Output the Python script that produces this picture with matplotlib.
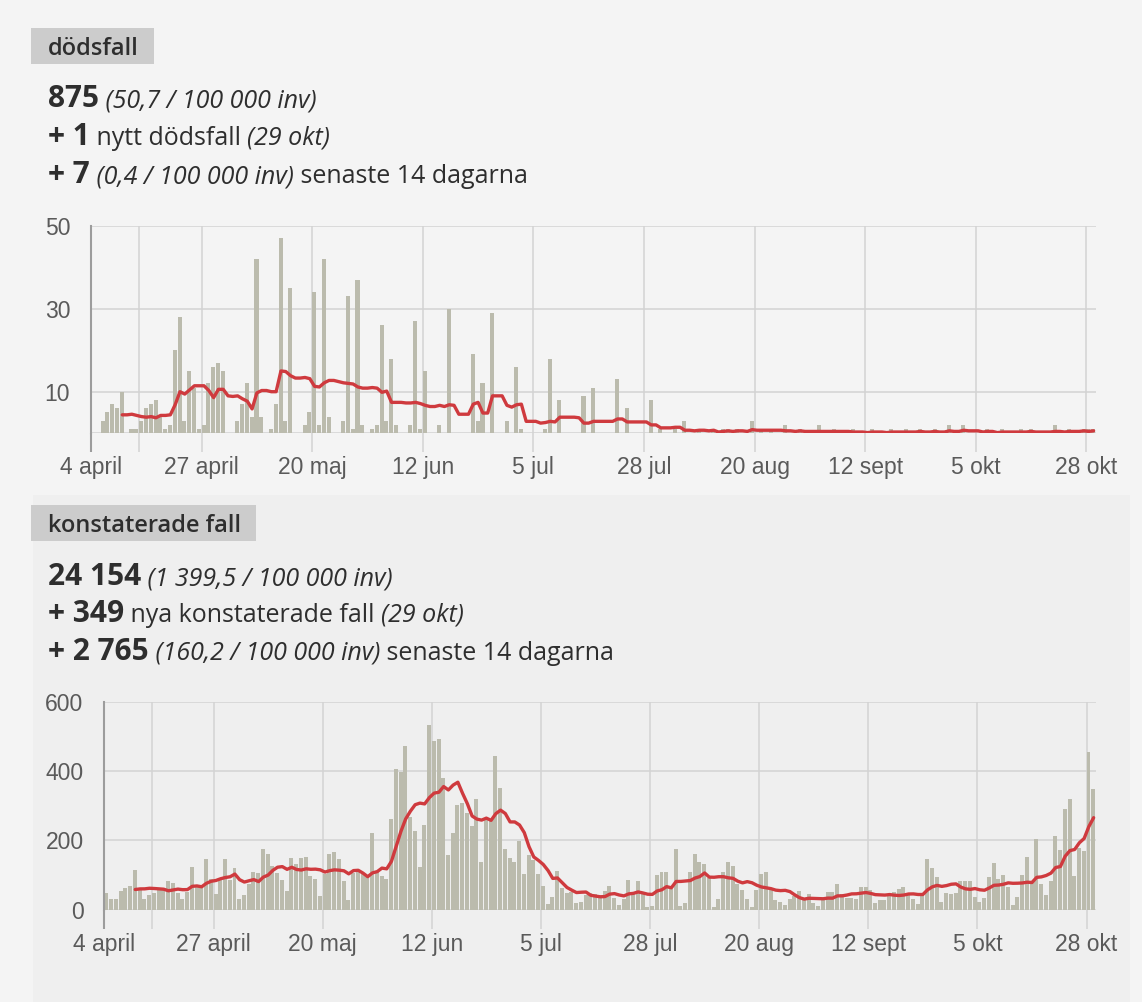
import matplotlib
matplotlib.use('Agg')
import matplotlib.pyplot as plt
import numpy as np
import pandas as pd
from matplotlib.patches import Rectangle

W, H = 1142, 1002
start = pd.Timestamp('2020-04-04')

deaths = [0, 0, 3, 5, 7, 6, 10, 0, 1, 1,
          3, 6, 7, 8, 4, 1, 2, 20, 28, 3,
          15, 11, 1, 2, 12, 16, 17, 15, 0, 0,
          3, 7, 12, 4, 42, 4, 0, 1, 7, 47,
          3, 35, 0, 0, 2, 5, 34, 2, 42, 4,
          0, 0, 3, 33, 1, 37, 2, 0, 1, 2,
          26, 3, 18, 2, 0, 0, 2, 27, 1, 15,
          0, 0, 2, 0, 30, 0, 0, 0, 0, 19,
          3, 12, 0, 29, 0, 0, 3, 0, 16, 1,
          0, 0, 0, 0, 1, 18, 0, 8, 0, 0,
          0, 0, 9, 0, 11, 0, 0, 0, 0, 13,
          0, 6, 0, 0, 0, 0, 8, 0, 1, 0,
          0, 1, 0, 3, 0, 0, 1, 0, 0, 1,
          0, 1, 1, 0, 1, 0, 0, 3, 0, 1,
          0, 1, 0, 0, 2, 0, 0, 1, 0, 0,
          0, 2, 0, 0, 1, 0, 0, 0, 1, 0,
          0, 0, 1, 0, 0, 0, 1, 0, 0, 1,
          0, 0, 1, 0, 0, 1, 0, 0, 2, 0,
          0, 2, 0, 0, 0, 0, 1, 0, 0, 1,
          0, 0, 0, 1, 0, 1, 0, 0, 0, 0,
          2, 0, 0, 1, 0, 0, 1, 1, 1]

cases = [48, 30, 30, 53, 64, 68, 115, 60, 31, 42,
         48, 56, 62, 83, 76, 49, 30, 50, 122, 70,
         66, 146, 90, 46, 85, 147, 85, 121, 32, 42,
         73, 108, 107, 175, 162, 127, 106, 85, 53, 149,
         131, 150, 152, 96, 88, 39, 104, 160, 166, 145,
         83, 27, 105, 110, 103, 94, 221, 109, 98, 90,
         261, 405, 397, 473, 266, 228, 122, 245, 533, 487,
         491, 381, 159, 220, 303, 307, 280, 242, 319, 138,
         260, 258, 443, 350, 174, 150, 137, 198, 104, 159,
         143, 104, 68, 16, 38, 113, 62, 48, 50, 19,
         23, 42, 48, 45, 34, 54, 68, 34, 14, 30,
         85, 45, 83, 47, 9, 10, 99, 110, 108, 59,
         175, 10, 19, 108, 161, 137, 132, 91, 7, 30,
         108, 139, 126, 75, 57, 32, 7, 58, 104, 110,
         57, 27, 22, 13, 32, 39, 53, 28, 44, 18,
         10, 29, 52, 52, 74, 45, 34, 33, 31, 65,
         65, 56, 20, 29, 29, 42, 52, 59, 65, 41,
         31, 17, 42, 146, 120, 94, 21, 47, 44, 49,
         82, 84, 84, 37, 22, 35, 95, 136, 89, 100,
         65, 13, 37, 100, 151, 83, 204, 75, 41, 84,
         214, 171, 290, 318, 98, 177, 170, 456, 349]

tick_dates = ['2020-04-04', '2020-04-14', '2020-04-27', '2020-05-20', '2020-06-12',
              '2020-07-05', '2020-07-28', '2020-08-20', '2020-09-12', '2020-10-05',
              '2020-10-28']
tick_labels = ['4 april', '', '27 april', '20 maj', '12 jun', '5 jul', '28 jul',
               '20 aug', '12 sept', '5 okt', '28 okt']

deaths_y_ticks = [0, 10, 30, 50]
deaths_y_labels = ['', '10', '30', '50']
cases_y_ticks = [0, 200, 400, 600]
cases_y_labels = ['0', '200', '400', '600']

plt.rcParams['font.family'] = ['Liberation Sans', 'DejaVu Sans']

days = np.arange(len(cases))
deaths_avg = pd.Series(deaths).rolling(7).mean().to_numpy()
cases_avg = pd.Series(cases).rolling(7).mean().to_numpy()
tick_pos = [(pd.Timestamp(d) - start).days for d in tick_dates]

fig = plt.figure(figsize=(W / 100, H / 100), dpi=100, facecolor='#f4f4f4')

# lower panel background
fig.patches.append(Rectangle((33 / W, 0), 1097 / W, 1 - 495 / H,
                             transform=fig.transFigure, fc='#efefef', ec='none', zorder=-10))


def px_axes(left, top, right, bottom):
    return fig.add_axes([left / W, 1 - bottom / H, (right - left) / W, (bottom - top) / H])


def style(ax, vals, avg, yticks, ylabels, ymax):
    ax.set_facecolor('none')
    ax.bar(days, vals, width=0.84, align='edge', color='#bbbbad', zorder=2)
    ax.plot(days + 0.5, avg, color='#cf3a3e', lw=2.4, zorder=3,
            solid_capstyle='round', solid_joinstyle='round')
    ax.set_xlim(0, 209)
    ax.set_ylim(0, ymax)
    ax.set_xticks(tick_pos)
    ax.set_xticklabels(tick_labels)
    ax.set_yticks(yticks)
    ax.set_yticklabels(ylabels)
    ax.grid(True, color='#d3d3d3', lw=1.1)
    ax.set_axisbelow(True)
    for s in ['top', 'right', 'bottom']:
        ax.spines[s].set_visible(False)
    ax.spines['left'].set_color('#9c9c9c')
    ax.spines['left'].set_linewidth(1.5)
    ax.tick_params(axis='x', length=13.5, width=1.1, color='#d3d3d3', pad=3,
                   labelsize=16.5, labelcolor='#5a5a5a')
    ax.tick_params(axis='y', length=0, pad=15, labelsize=16.5, labelcolor='#5a5a5a')
    t0 = ax.xaxis.get_major_ticks()[0]
    t0.tick1line.set_markeredgecolor('#9c9c9c')
    t0.tick1line.set_markeredgewidth(1.5)


ax1 = px_axes(91, 225.7, 1096, 433.2)
style(ax1, deaths, deaths_avg, deaths_y_ticks, deaths_y_labels, 50)
ax2 = px_axes(104.4, 701.7, 1096, 909.7)
style(ax2, cases, cases_avg, cases_y_ticks, cases_y_labels, 600)

renderer = fig.canvas.get_renderer()
TXT = '#2e2e2e'
HF = ['Open Sans', 'DejaVu Sans']
X0 = 48


def runs(x, y, parts):
    for text, size, weight, st in parts:
        t = fig.text(x / W, 1 - y / H, text, fontsize=size, fontweight=weight,
                     fontstyle=st, family=HF, color=TXT, va='baseline', ha='left')
        x += t.get_window_extent(renderer).width


def title(text, top, bottom, baseline):
    t = fig.text(X0 / W, 1 - baseline / H, text, fontsize=17, fontweight='semibold',
                 family=HF, color=TXT, va='baseline', ha='left')
    w = t.get_window_extent(renderer).width
    fig.patches.append(Rectangle((31 / W, 1 - bottom / H), (w + 32) / W, (bottom - top) / H,
                                 transform=fig.transFigure, fc='#cccccc', ec='none', zorder=-5))


BIG, SM = 21.5, 18
title('dödsfall', 28, 64, 55)
runs(X0, 107, [('875', BIG, 'bold', 'normal'), (' (50,7 / 100 000 inv)', SM, 'normal', 'italic')])
runs(X0, 145, [('+ 1', BIG, 'bold', 'normal'), (' nytt dödsfall ', SM, 'normal', 'normal'),
               ('(29 okt)', SM, 'normal', 'italic')])
runs(X0, 183, [('+ 7', BIG, 'bold', 'normal'), (' (0,4 / 100 000 inv)', SM, 'normal', 'italic'),
               (' senaste 14 dagarna', SM, 'normal', 'normal')])

title('konstaterade fall', 505, 541, 532)
runs(X0, 585, [('24 154', BIG, 'bold', 'normal'), (' (1 399,5 / 100 000 inv)', SM, 'normal', 'italic')])
runs(X0, 622, [('+ 349', BIG, 'bold', 'normal'), (' nya konstaterade fall ', SM, 'normal', 'normal'),
               ('(29 okt)', SM, 'normal', 'italic')])
runs(X0, 660, [('+ 2 765', BIG, 'bold', 'normal'), (' (160,2 / 100 000 inv)', SM, 'normal', 'italic'),
               (' senaste 14 dagarna', SM, 'normal', 'normal')])

fig.savefig('out.png', dpi=100, facecolor=fig.get_facecolor())
